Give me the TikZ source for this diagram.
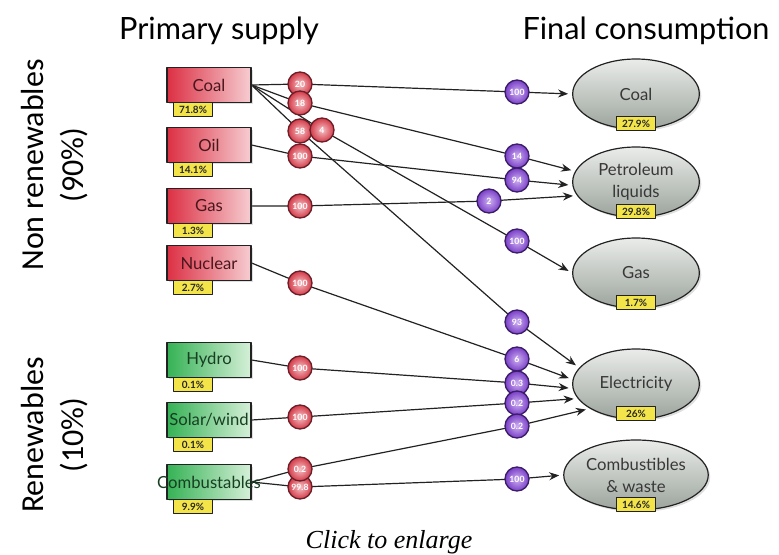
\documentclass[tikz,border=0pt]{standalone}
\usepackage{fontspec}
\setmainfont{Lato}
\newfontfamily\sidefont{Carlito}
\newfontfamily\notefont{Liberation Serif}
\usepackage{tikz}
\usetikzlibrary{arrows.meta,calc,shapes.geometric,shadows,backgrounds}
\definecolor{nonredL}{HTML}{DC3044}
\definecolor{nonredR}{HTML}{F6CDD1}
\definecolor{nontext}{HTML}{4A161D}
\definecolor{renewL}{HTML}{35B255}
\definecolor{renewR}{HTML}{D6F0D8}
\definecolor{renewtext}{HTML}{173F22}
\definecolor{tagyellow}{HTML}{F3E44A}
\definecolor{inring}{HTML}{6A1F28}
\definecolor{inouter}{HTML}{D33A48}
\definecolor{ininner}{HTML}{F6C2C6}
\definecolor{outring}{HTML}{3A1D66}
\definecolor{outouter}{HTML}{7A3FC8}
\definecolor{outinner}{HTML}{CDB0F0}
\definecolor{useT}{HTML}{EAECE9}
\definecolor{useB}{HTML}{9CA49D}
\definecolor{ink}{HTML}{222222}
\tikzset{
    every picture/.style={line cap=round,line join=round},
    srcbox/.style={draw=ink,line width=0.9pt,left color=nonredL,right color=nonredR,
      minimum width=63pt,minimum height=26pt,inner xsep=-10pt,inner ysep=1pt,
      text=nontext,font=\fontsize{12.5}{14}\selectfont,
      drop shadow={opacity=0.25,shadow xshift=1.5pt,shadow yshift=-1.5pt}},
    renewbox/.style={srcbox,left color=renewL,right color=renewR,text=renewtext},
    sharetag/.style={draw=ink,fill=tagyellow,line width=0.8pt,
      minimum width=29pt,minimum height=10.5pt,inner sep=0.5pt,
      font=\fontsize{7.5}{8}\selectfont\bfseries,text=black!85},
    inshare/.style={circle,draw=inring,line width=1pt,inner color=ininner,
      outer color=inouter,minimum size=18pt,inner sep=0pt,
      font=\fontsize{6.5}{7}\selectfont\bfseries,text=white},
    outshare/.style={inshare,draw=outring,inner color=outinner,outer color=outouter},
    usebox/.style={ellipse,draw=ink,line width=0.9pt,top color=useT,bottom color=useB,
      minimum width=95pt,minimum height=52.5pt,inner sep=1pt,align=center,
      text=black!78,font=\fontsize{12.5}{16.5}\selectfont,
      drop shadow={opacity=0.25,shadow xshift=1.5pt,shadow yshift=-1.5pt}},
    flowarrow/.style={draw=ink,line width=0.9pt,
      -{Stealth[length=7.5pt,width=6pt]},shorten >=3pt}
}
\begin{document}
\begin{tikzpicture}[x=0.75pt,y=-0.75pt]
  \useasboundingbox (0,0) rectangle (779,554);
  \node[anchor=base,font=\fontsize{23}{26}\selectfont] (supplytitle) at (219,39) {Primary supply};
  \node[anchor=base,font=\fontsize{23}{26}\selectfont] (usetitle) at (646,39) {Final consumption};
  \node[rotate=90,align=center,font=\sidefont\fontsize{24}{30}\selectfont] (nonren) at (55,165)
    {Non renewables\\(90\%)};
  \node[rotate=90,align=center,font=\sidefont\fontsize{24}{30}\selectfont] (ren) at (55,435)
    {Renewables\\(10\%)};

  % primary sources
  \foreach \nm/\txt/\pc/\yy/\kind in {coal/Coal/71.8/85/srcbox,oil/Oil/14.1/145/srcbox,
      gas/Gas/1.3/206/srcbox,nuclear/Nuclear/2.7/263/srcbox,hydro/Hydro/0.1/360/renewbox,
      solar/{Solar/wind}/0.1/420/renewbox,comb/Combustables/9.9/482/renewbox} {
    \node[\kind] (\nm) at (209,\yy) {\txt};
    \node[sharetag] (\nm-pc) at ($(\nm.south)+(-16,7)$) {\pc\%};
  }

  % final uses
  \node[usebox] (ecoal) at (636,94) {Coal};
  \node[usebox] (epet) at (636,182) {Petroleum\\liquids};
  \node[usebox] (egas) at (636,273) {Gas};
  \node[usebox] (eelec) at (636,384) {Electricity};
  \node[usebox] (ecomb) at (636,475) {Combustibles\\\& waste};
  \foreach \nm/\pc in {ecoal/27.9,epet/29.8,egas/1.7,eelec/26,ecomb/14.6}
    \node[sharetag] (\nm-pc) at ($(\nm.south)+(0,-6)$) {\pc\%};

  % flows: source -> share of source -> share of use -> use
  \foreach \id/\src/\rx/\ry/\rv/\px/\py/\pv/\dst in {
      a/coal/300/84/20/517/92/100/ecoal.180,
      b/coal/300/103/18/517/156/14/epet.170,
      c/coal/300/131/58/517/322/93/eelec.164,
      d/coal/322/130/4/517/241/100/egas.180,
      e/oil/300/156/100/517/180/94/epet.183,
      f/gas/300/206/100/489/201/2/epet.193,
      g/nuclear/300/283/100/517/359/6/eelec.176,
      h/hydro/300/368/100/517/383/0.3/eelec.184,
      i/solar/300/417/100/517/403/0.2/eelec.194,
      k/comb/300/487/99.8/517/479/100/ecomb.180,
      j/comb/300/469/0.2/517/426/0.2/eelec.208} {
    \node[inshare] (r\id) at (\rx,\ry) {\rv};
    \node[outshare] (p\id) at (\px,\py) {\pv};
    \begin{scope}[on background layer]
      \draw[flowarrow] (\src.east) -- (r\id.center) -- (p\id.center) -- (\dst);
    \end{scope}
  }

  \node[anchor=base,font=\notefont\itshape\fontsize{19.5}{22}\selectfont] (clicknote) at (389,548)
    {Click to enlarge};
\end{tikzpicture}
\end{document}
